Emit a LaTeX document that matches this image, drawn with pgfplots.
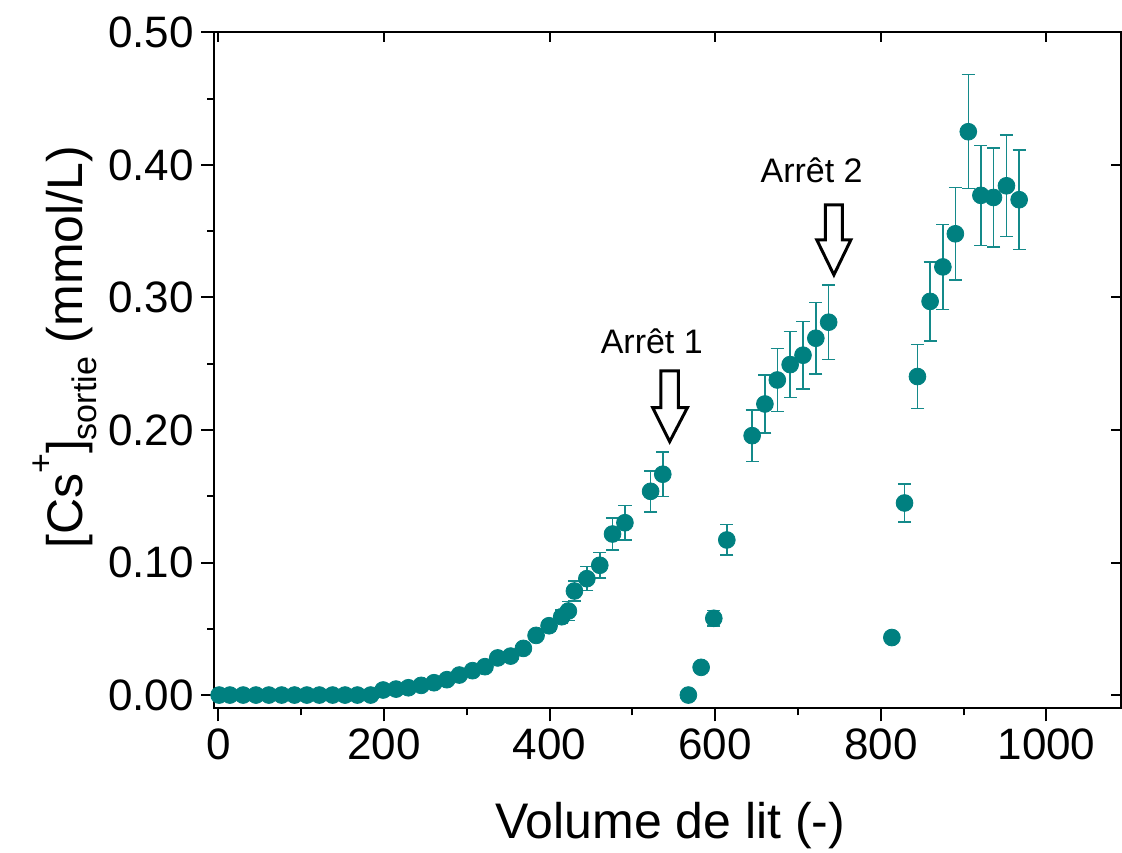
\documentclass[border=0pt]{standalone}
\usepackage{pgfplots}
\usepackage{pgfplotstable}
\pgfplotsset{compat=1.18}
\usepackage{fontspec}
\setmainfont{Liberation Sans}
\definecolor{tealc}{RGB}{0,128,128}
\definecolor{errc}{RGB}{20,138,138}

\pgfplotstableread{
x y e
1 0 0
14 0 0
30 0 0
45.5 0 0
61 0 0
76.5 0 0
92 0 0
107 0 0
122 0 0
138 0 0
153 0 0
168 0 0
184 0 0
199 0.0038 0
214.6 0.0045 0
229.5 0.0055 0
245 0.0073 0
260.5 0.0093 0
276 0.0116 0
291 0.0151 0
307 0.0184 0
322 0.0214 0
337.4 0.0280 0
353 0.0294 0
368.4 0.0352 0
383.7 0.0450 0.003
399.4 0.0523 0.004
414.7 0.0591 0.005
422.7 0.0634 0.007
430 0.0785 0.0075
445 0.0878 0.009
460.6 0.0979 0.0096
476 0.1215 0.012
491 0.1300 0.013
522 0.1537 0.0155
536.7 0.1666 0.0167
567.6 0.0 0
583 0.0209 0
598.3 0.0579 0.0058
614 0.1170 0.0115
644.6 0.1957 0.0195
660 0.2196 0.022
675 0.2377 0.0237
690.5 0.2493 0.025
706 0.2564 0.0255
721.5 0.2692 0.027
737 0.2813 0.028
813.3 0.0434 0
828.6 0.1449 0.0145
844.2 0.2403 0.024
859.5 0.2970 0.0297
874.9 0.3230 0.032
890 0.3480 0.035
905.6 0.4250 0.043
920.8 0.3770 0.0377
936 0.3754 0.0375
951.7 0.3842 0.0383
967 0.3737 0.0374
}\data

\begin{document}
\begin{tikzpicture}
\begin{axis}[
  scale only axis, width=453.5pt, height=338pt,
  at={(0,0)}, anchor=south west,
  xmin=-5.2, xmax=1090, ymin=-0.01, ymax=0.50,
  axis line style={line width=1pt},
  xtick={0,200,400,600,800,1000},
  ytick={0,0.1,0.2,0.3,0.4,0.5},
  minor x tick num=1, minor y tick num=1,
  tick pos=left, tick align=outside,
  major tick length=6.5pt, minor tick length=3.5pt,
  every tick/.style={black, line width=1pt},
  /pgf/number format/assume math mode=true,
  /pgf/number format/set thousands separator={},
  yticklabel style={/pgf/number format/.cd, fixed, fixed zerofill, precision=2},
  tick label style={font=\fontsize{22}{22}\selectfont, black},
  xlabel={Volume de lit (-)},
  ylabel={[Cs\raisebox{0.6em}{\fontsize{17}{17}\selectfont +}]\raisebox{-0.28em}{\fontsize{17}{17}\selectfont sortie} (mmol/L)},
  every axis x label/.style={at={(axis description cs:0.503,-0.173)}, anchor=center, font=\fontsize{25}{25}\selectfont},
  every axis y label/.style={at={(axis description cs:-0.164,0.534)}, anchor=center, rotate=90, font=\fontsize{25}{25}\selectfont},
  clip=false,
]
\addplot[only marks, mark=*, mark size=4.2pt, color=tealc,
  mark options={fill=tealc, draw=tealc},
  error bars/.cd, y dir=both, y explicit,
  error bar style={errc, line width=0.75pt},
  error mark options={errc, mark size=3.3pt, line width=0.75pt, rotate=90}]
  table[x=x, y=y, y error=e] {\data};

\draw[black, line width=1.5pt, fill=white, line join=miter]
  (axis cs:534.3,0.2445) -- (axis cs:555.6,0.2445) -- (axis cs:555.6,0.2168)
  -- (axis cs:566.4,0.2168) -- (axis cs:545,0.1912) -- (axis cs:524.6,0.2168)
  -- (axis cs:534.3,0.2168) -- cycle;
\draw[black, line width=1.5pt, fill=white, line join=miter]
  (axis cs:733.1,0.3698) -- (axis cs:753.6,0.3698) -- (axis cs:753.6,0.3434)
  -- (axis cs:763.8,0.3434) -- (axis cs:743.3,0.317) -- (axis cs:722.7,0.3434)
  -- (axis cs:733.1,0.3434) -- cycle;
\node[font=\fontsize{17}{17}\selectfont, anchor=center] at (axis cs:523.4,0.267) {Arrêt 1};
\node[font=\fontsize{17}{17}\selectfont, anchor=center] at (axis cs:716.4,0.396) {Arrêt 2};
\end{axis}
\begin{axis}[
  scale only axis, width=453.5pt, height=338pt,
  at={(0,0)}, anchor=south west,
  xmin=-5.2, xmax=1090, ymin=-0.01, ymax=0.50,
  axis x line*=top, axis y line*=right,
  axis line style={line width=1pt},
  xtick={0,200,400,600,800,1000},
  ytick={0,0.1,0.2,0.3,0.4,0.5},
  xticklabels={}, yticklabels={},
  tick align=inside, major tick length=5pt,
  every tick/.style={black, line width=1pt},
]
\end{axis}
\pgfresetboundingbox
\path (-107pt,-71.85pt) rectangle (454pt,354.15pt);
\end{tikzpicture}
\end{document}
